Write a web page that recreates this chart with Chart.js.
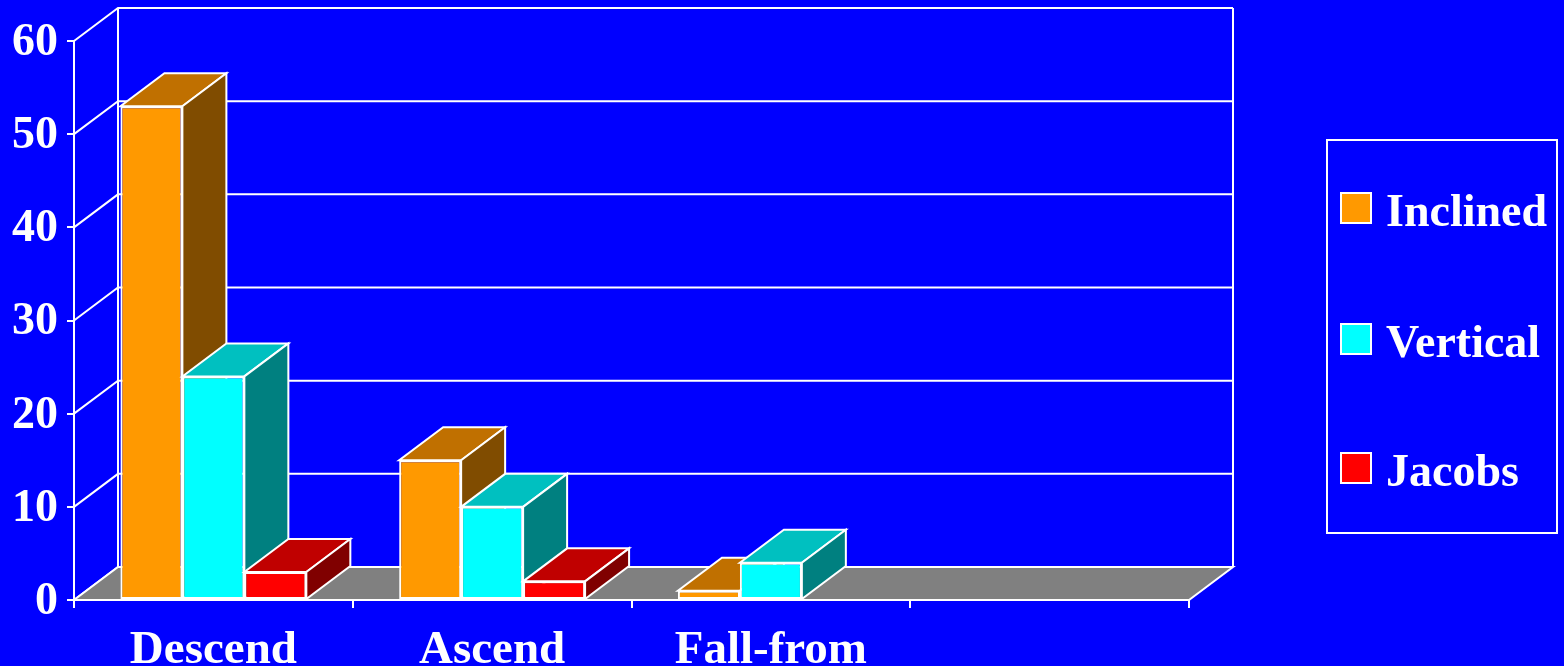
<!DOCTYPE html>
<html>
<head>
<meta charset="utf-8">
<script src="https://cdn.jsdelivr.net/npm/chart.js@4/dist/chart.umd.min.js"></script>
<style>
  html, body { margin: 0; padding: 0; background: #0000FF; overflow: hidden; }
  canvas { display: block; }
</style>
</head>
<body>
<canvas id="c" width="1564" height="666"></canvas>
<script>
// ---- data ----
const categories = ['Descend', 'Ascend', 'Fall-from', ''];
const seriesNames = ['Inclined', 'Vertical', 'Jacobs'];
const inclined = [53, 15, 1, null];
const vertical = [24, 10, 4, null];
const jacobs   = [3, 2, null, null];
const yTicks = [0, 10, 20, 30, 40, 50, 60];

// ---- styles ----
const frontColors = ['#FF9900', '#00FFFF', '#FF0000'];
const topColors   = ['#C07000', '#00C0C0', '#C00000'];
const sideColors  = ['#804C00', '#008080', '#800000'];
const BG = '#0000FF';
const FLOOR = '#808080';
const FONT = "'Liberation Serif', 'Times New Roman', serif";
const DX = 44, DY = -33;

function poly(ctx, pts, fill) {
  ctx.beginPath();
  ctx.moveTo(pts[0][0], pts[0][1]);
  for (let i = 1; i < pts.length; i++) ctx.lineTo(pts[i][0], pts[i][1]);
  ctx.closePath();
  if (fill) { ctx.fillStyle = fill; ctx.fill(); }
  ctx.lineWidth = 2;
  ctx.strokeStyle = '#FFFFFF';
  ctx.lineJoin = 'miter';
  ctx.stroke();
}

const threeD = {
  id: 'threeD',
  beforeDraw(chart) {
    const ctx = chart.ctx;
    ctx.save();
    ctx.fillStyle = BG;
    ctx.fillRect(0, 0, chart.width, chart.height);
    ctx.restore();
  },
  beforeDatasetsDraw(chart) {
    const ctx = chart.ctx;
    const a = chart.chartArea;
    const ys = chart.scales.y;
    ctx.save();
    ctx.strokeStyle = '#FFFFFF';
    ctx.lineWidth = 2;
    // back wall gridlines + diagonals
    ys.ticks.forEach(t => {
      const py = ys.getPixelForValue(t.value);
      ctx.beginPath();
      ctx.moveTo(a.left, py);
      ctx.lineTo(a.left + DX, py + DY);
      ctx.lineTo(a.right + DX, py + DY);
      ctx.stroke();
    });
    // back wall verticals
    const top = ys.getPixelForValue(ys.max) + DY;
    const bot = ys.getPixelForValue(0) + DY;
    ctx.beginPath();
    ctx.moveTo(a.left + DX, top); ctx.lineTo(a.left + DX, bot);
    ctx.moveTo(a.right + DX, top); ctx.lineTo(a.right + DX, bot);
    ctx.stroke();
    // floor
    const b = ys.getPixelForValue(0);
    poly(ctx, [[a.left, b], [a.right, b], [a.right + DX, b + DY], [a.left + DX, b + DY]], FLOOR);
    ctx.restore();
  },
  beforeDatasetDraw() { return false; },
  afterDatasetsDraw(chart) {
    const ctx = chart.ctx;
    ctx.save();
    chart.data.datasets.forEach((ds, i) => {
      const meta = chart.getDatasetMeta(i);
      meta.data.forEach((bar, j) => {
        if (ds.data[j] == null) return;
        const p = bar.getProps(['x', 'y', 'base', 'width'], true);
        const l = p.x - p.width / 2, r = p.x + p.width / 2;
        bar.draw(ctx, chart.chartArea);
        poly(ctx, [[l, p.y], [r, p.y], [r + DX, p.y + DY], [l + DX, p.y + DY]], topColors[i]);
        poly(ctx, [[r, p.y], [r + DX, p.y + DY], [r + DX, p.base + DY], [r, p.base]], sideColors[i]);
      });
    });
    ctx.restore();
  },
  afterDraw(chart) {
    const ctx = chart.ctx;
    ctx.save();
    // legend box
    ctx.strokeStyle = '#FFFFFF';
    ctx.lineWidth = 2;
    ctx.strokeRect(1327, 140, 230, 393);
    const baselines = [226, 357, 486];
    ctx.font = "bold 46px " + FONT;
    ctx.textBaseline = 'alphabetic';
    ctx.textAlign = 'left';
    chart.data.datasets.forEach((ds, i) => {
      const bl = baselines[i];
      ctx.fillStyle = ds.backgroundColor;
      ctx.fillRect(1341, bl - 33, 30, 30);
      ctx.strokeRect(1341, bl - 33, 30, 30);
      ctx.fillStyle = '#FFFFFF';
      ctx.fillText(ds.label, 1386, bl);
    });
    ctx.restore();
  }
};

const datasets = [inclined, vertical, jacobs].map((d, i) => ({
  label: seriesNames[i],
  data: d,
  backgroundColor: frontColors[i],
  borderColor: '#FFFFFF',
  borderWidth: 2,
  borderSkipped: false,
  categoryPercentage: 0.667,
  barPercentage: 1.0
}));

new Chart(document.getElementById('c'), {
  type: 'bar',
  data: { labels: categories, datasets },
  plugins: [threeD],
  options: {
    responsive: false,
    animation: false,
    events: [],
    layout: { padding: { left: 0, right: 375, top: 41, bottom: 0 } },
    plugins: { legend: { display: false }, tooltip: { enabled: false } },
    scales: {
      x: {
        offset: true,
        grid: { display: true, drawOnChartArea: false, drawTicks: true, tickLength: 8, color: '#FFFFFF', lineWidth: 2, offset: true },
        border: { display: true, color: '#FFFFFF', width: 2 },
        ticks: { color: '#FFFFFF', padding: 15, maxRotation: 0, autoSkip: false, font: { family: FONT, weight: 'bold', size: 47 } },
        afterFit(s) { s.height = 66; }
      },
      y: {
        min: 0, max: 60,
        afterBuildTicks(s) { s.ticks = yTicks.map(v => ({ value: v })); },
        grid: { display: true, drawOnChartArea: false, drawTicks: true, tickLength: 7, color: '#FFFFFF', lineWidth: 2 },
        border: { display: true, color: '#FFFFFF', width: 2 },
        ticks: { color: '#FFFFFF', padding: 9, labelOffset: 2, font: { family: FONT, weight: 'bold', size: 46 } },
        afterFit(s) { s.width = 74; }
      }
    }
  }
});
</script>
</body>
</html>
